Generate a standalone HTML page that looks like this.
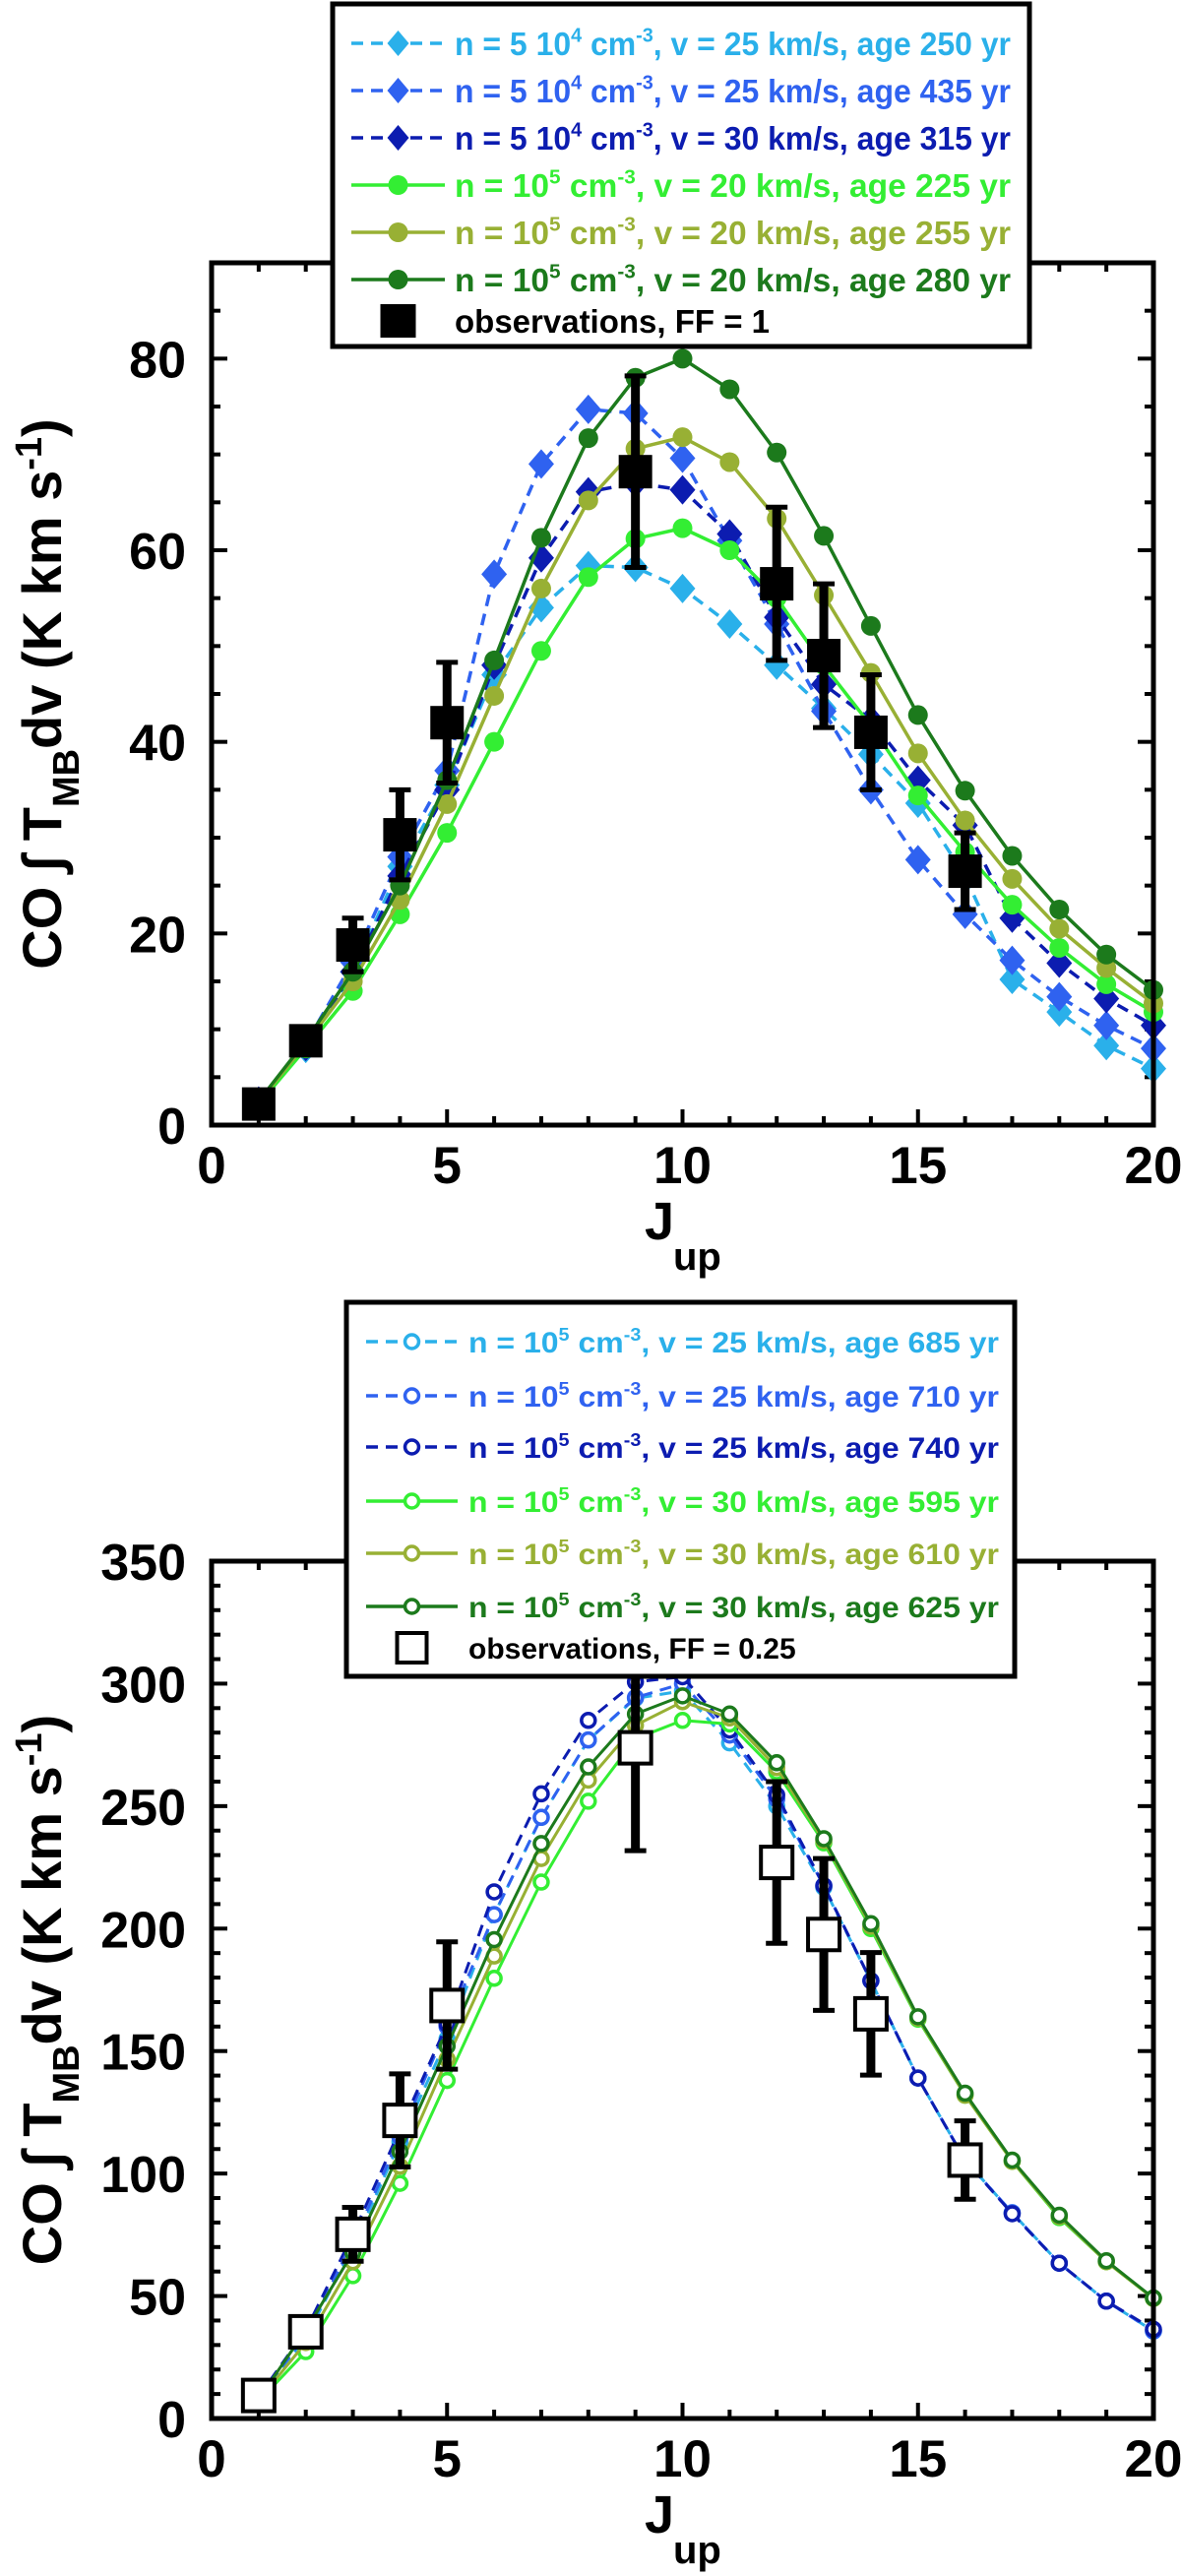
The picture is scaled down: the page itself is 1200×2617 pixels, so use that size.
<!DOCTYPE html>
<html><head><meta charset="utf-8"><style>
html,body{margin:0;padding:0;background:#fff;}
svg{display:block;font-family:"Liberation Sans",Arial,sans-serif;font-weight:bold;}
</style></head><body>
<svg id="fig" width="1200" height="2617" viewBox="0 0 1200 2617" xmlns="http://www.w3.org/2000/svg"></svg>
<script>
// ---------- data: top panel ----------
const J = [1,2,3,4,5,6,7,8,9,10,11,12,13,14,15,16,17,18,19,20];
const topLabels = ["n = 5 10|4| cm|-3|, v = 25 km/s, age 250 yr","n = 5 10|4| cm|-3|, v = 25 km/s, age 435 yr","n = 5 10|4| cm|-3|, v = 30 km/s, age 315 yr","n = 10|5| cm|-3|, v = 20 km/s, age 225 yr","n = 10|5| cm|-3|, v = 20 km/s, age 255 yr","n = 10|5| cm|-3|, v = 20 km/s, age 280 yr"];
const topA = [2.4,8,16,27,35.5,47,54,58.4,58.2,56,52.3,48,43.5,38.7,33.6,26,15.2,11.8,8.3,5.9];
const topB = [2.5,8.5,17,28,37,57.5,69,74.7,74.3,69.6,61,52.3,43.2,35,27.7,22,17.2,13.4,10.4,8];
const topC = [2.5,8.2,16,26,35,48,59.2,66.1,67,66.3,61.7,53,46,42.3,36,31.3,21.6,16.9,13.2,10.4];
const topD = [2.2,8,14,22,30.5,40,49.5,57.2,61.2,62.3,60,55,48,41.7,34.4,28.5,23,18.5,14.7,11.8];
const topE = [2.4,8.5,15,23.5,33.5,44.8,56,65.2,70.6,71.8,69.2,63.3,55.3,47.2,38.8,31.8,25.7,20.5,16.4,12.7];
const topF = [2.5,8.8,16,25,36,48.5,61.3,71.7,78,80,76.8,70.2,61.5,52.1,42.8,34.9,28.1,22.5,17.8,14.1];
const topObsJ = [1,2,3,4,5,9,12,13,14,16];
const topObs = [2.2,8.8,18.8,30.3,42,68.2,56.5,49,41,26.5];
const topObsErr = [0.6,1.2,2.8,4.7,6.3,10,8,7.5,6,4];
const topYTicks = [0,20,40,60,80];
// ---------- data: bottom panel ----------
const botLabels = ["n = 10|5| cm|-3|, v = 25 km/s, age 685 yr","n = 10|5| cm|-3|, v = 25 km/s, age 710 yr","n = 10|5| cm|-3|, v = 25 km/s, age 740 yr","n = 10|5| cm|-3|, v = 30 km/s, age 595 yr","n = 10|5| cm|-3|, v = 30 km/s, age 610 yr","n = 10|5| cm|-3|, v = 30 km/s, age 625 yr"];
const botA = [8,33,70,113,155,205.7,245.4,277,294,297,275.8,250,216.8,178.7,139,105.5,84,63.4,47.9,35.7];
const botB = [8.5,34,72,115,160,205.7,245.4,277,294.3,300,279,252.9,217.5,178.7,139,105.5,84,63.4,47.9,35.7];
const botC = [9,36,75,118,161,215,255,285,300.7,302.8,281,254.5,217.5,178.7,139,105.5,83.6,63.4,47.9,36.4];
const botD = [7,27.3,58.3,96,138,179.7,219,252,277.5,285,283.5,264,235,200,163,132,105,82,64,49];
const botE = [7.5,31,64,103,146.7,188.8,228.6,260.6,283,292.6,286,265.7,236,201,163.5,132,105,82.5,64,49];
const botF = [8,36,67.8,109,152,195.5,234.7,266,287.6,295,287.6,267.7,236.7,202,164,132.8,105.5,83,64.4,49.2];
const botObsJ = [1,2,3,4,5,9,12,13,14,16];
const botObs = [9.4,35.4,75.2,121.7,168.6,273.8,227,197.6,165.2,105.5];
const botObsErr = [2,4,11,19,26,42,33,31,25,16];
const botYTicks = [0,50,100,150,200,250,300,350];
const xTicks = [0,5,10,15,20];

const colors = ["#2ab0ea","#2f62f0","#0c1cb0","#33ee33","#98b034","#1c7a1c"];
const NS = "http://www.w3.org/2000/svg";
const svg = document.getElementById('fig');
function mk(tag, attrs, parent){ const e=document.createElementNS(NS,tag); for(const k in attrs) e.setAttribute(k,attrs[k]); (parent||svg).appendChild(e); return e; }
function richText(parent, str, x, y, size, fill, len){
  const t = mk('text',{x:x,y:y,'font-size':size,fill:fill},parent);
  if(len){ t.setAttribute('textLength',len); t.setAttribute('lengthAdjust','spacingAndGlyphs'); }
  const parts = str.split('|');
  parts.forEach((p,i)=>{ const s=mk('tspan',{},t); s.textContent=p; if(i%2===1){ s.setAttribute('dy',-size*0.4); s.setAttribute('font-size',size*0.62);} else if(i>0){ s.setAttribute('dy',size*0.4);} });
  return t;
}

function panel(cfg){
  const g = mk('g',{});
  
  
  const X0=215, X1=1172, Y0=cfg.y0, Y1=cfg.y1;
  const sx = v => X0 + (v-0)/20*(X1-X0);
  const sy = v => Y0 - v/cfg.ymax*(Y0-Y1);
  // ticks
  const tk = mk('g',{stroke:'#000','stroke-width':4},g);
  
  
  for(let v=0; v<=20; v++){ const L = v%5===0?16:9;
    mk('line',{x1:sx(v),x2:sx(v),y1:Y0,y2:Y0-L},tk); mk('line',{x1:sx(v),x2:sx(v),y1:Y1,y2:Y1+L},tk); }
  for(let v=0; v<=cfg.ymax+0.01; v+=cfg.minor){ const L = Math.abs(v/cfg.major-Math.round(v/cfg.major))<1e-6?16:9;
    mk('line',{x1:X0,x2:X0+L,y1:sy(v),y2:sy(v)},tk); mk('line',{x1:X1,x2:X1-L,y1:sy(v),y2:sy(v)},tk); }
  // tick labels
  xTicks.forEach(v=>{ const t=mk('text',{x:sx(v),y:Y0+59,'font-size':53,'text-anchor':'middle'},g); t.textContent=v;
      });
  cfg.yticks.forEach(v=>{ const t=mk('text',{x:X0-26,y:sy(v)+19,'font-size':52,'text-anchor':'end'},g); t.textContent=v;
      });
  // axis titles
  const xt = mk('text',{x:655,y:Y0+116,'font-size':54,'text-anchor':'start'},g);
   
  const j1=mk('tspan',{},xt); j1.textContent='J';
  const j2=mk('tspan',{x:684,dy:31,'font-size':40}, xt); j2.textContent='up';
  const cy=(Y0+Y1)/2;
  const yt = mk('text',{x:0,y:0,'font-size':56,'text-anchor':'middle',transform:`translate(62,${cy}) rotate(-90)`},g);
   
  [['CO ∫ T',0,56],['MB',18,38],['dv (K km s',-18,56],['-1',-20,38],[')',20,56]].forEach(a=>{const s=mk('tspan',{dy:a[1],'font-size':a[2]},yt); s.textContent=a[0];});
  // series
  cfg.series.forEach((ser,i)=>{
    const c=colors[i], dashed=i<3;
    const sg=mk('g',{},g);
    
    
    const pts=J.map((j,k)=>sx(j)+','+sy(ser[k])).join(' ');
    mk('polyline',{points:pts,fill:'none',stroke:c,'stroke-width':cfg.open?3:3.5,'stroke-dasharray':dashed?'12 8':'none'},sg);
    J.forEach((j,k)=>{
      let m;
      if(cfg.open) m=mk('circle',{cx:sx(j),cy:sy(ser[k]),r:7,fill:'#fff',stroke:c,'stroke-width':3.5},sg);
      else if(dashed) m=mk('path',{d:`M${sx(j)} ${sy(ser[k])-15}l13 15l-13 15l-13 -15z`,fill:c},sg);
      else m=mk('circle',{cx:sx(j),cy:sy(ser[k]),r:10,fill:c},sg);
       
    });
  });
  // observations
  const og=mk('g',{},g);
  
  
  cfg.obsJ.forEach((j,k)=>{
    const v=cfg.obs[k], e=cfg.err[k];
    mk('line',{x1:sx(j),x2:sx(j),y1:sy(v-e),y2:sy(v+e),stroke:'#000','stroke-width':9},og);
    mk('line',{x1:sx(j)-11,x2:sx(j)+11,y1:sy(v-e),y2:sy(v-e),stroke:'#000','stroke-width':5},og);
    mk('line',{x1:sx(j)-11,x2:sx(j)+11,y1:sy(v+e),y2:sy(v+e),stroke:'#000','stroke-width':5},og);
    const r=mk('rect',cfg.open?{x:sx(j)-16,y:sy(v)-16,width:32,height:32,fill:'#fff',stroke:'#000','stroke-width':4}:{x:sx(j)-17,y:sy(v)-17,width:34,height:34,fill:'#000'},og);
     
  });
  // frame
  const fr=mk('rect',{x:X0,y:Y1,width:X1-X0,height:Y0-Y1,fill:'none',stroke:'#000','stroke-width':5},g);
   
  // legend
  const L=cfg.leg;
  const lg=mk('g',{},g);
  
  
  mk('rect',{x:L.x,y:L.y,width:L.w,height:L.h,fill:'#fff',stroke:'#000','stroke-width':5},lg);
  cfg.labels.forEach((lab,i)=>{
    const c=colors[i], yy=L.rows[i];
    const e=mk('g',{},lg);
    
    
    mk('line',{x1:L.s0,x2:L.s1,y1:yy,y2:yy,stroke:c,'stroke-width':3.5,'stroke-dasharray':i<3?'12 8':'none'},e);
    const mx=(L.s0+L.s1)/2;
    if(cfg.open) mk('circle',{cx:mx,cy:yy,r:7,fill:'#fff',stroke:c,'stroke-width':3.5},e);
    else if(i<3) mk('path',{d:`M${mx} ${yy-13}l11 13l-11 13l-11 -13z`,fill:c},e);
    else mk('circle',{cx:mx,cy:yy,r:10,fill:c},e);
    richText(e,lab,L.tx,yy+L.fs*0.36,L.fs,c,L.tl);
  });
  const oe=mk('g',{},lg);
  
  
  const oy=L.rows[6], mx=(L.s0+L.s1)/2;
  mk('rect',cfg.open?{x:mx-15,y:oy-15,width:30,height:30,fill:'#fff',stroke:'#000','stroke-width':4}:{x:mx-18,y:oy-17,width:36,height:34,fill:'#000'},oe);
  const ot=mk('text',{x:L.tx,y:oy+L.fs*0.36,'font-size':L.fs,fill:'#000'},oe);
  ot.textContent=cfg.obsLabel;
}

panel({name:'top-panel',y0:1143,y1:267,ymax:90,major:20,minor:5,yticks:topYTicks,
  series:[topA,topB,topC,topD,topE,topF],obsJ:topObsJ,obs:topObs,err:topObsErr,open:false,labels:topLabels,
  obsLabel:'observations, FF = 1',
  leg:{x:338,y:4,w:708,h:348,s0:357,s1:452,tx:462,tl:565,fs:33,rows:[44,92,140,188,236,284,326]}});
panel({name:'bottom-panel',y0:2457,y1:1586,ymax:350,major:50,minor:10,yticks:botYTicks,
  series:[botA,botB,botC,botD,botE,botF],obsJ:botObsJ,obs:botObs,err:botObsErr,open:true,labels:botLabels,
  obsLabel:'observations, FF = 0.25',
  leg:{x:352,y:1323,w:679,h:380,s0:372,s1:465,tx:476,tl:539,fs:30,rows:[1363,1418,1470,1525,1578,1632,1674]}});
</script>
</body></html>
